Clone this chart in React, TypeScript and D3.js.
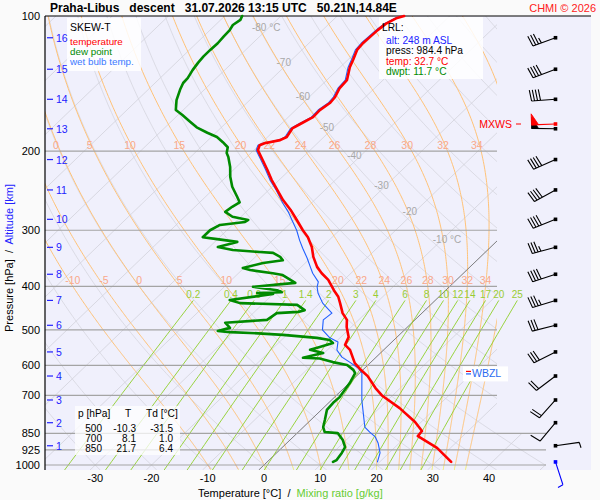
import React from "react";
import * as d3 from "d3";

// ---------------- data ----------------
const tempP = [984.4, 916, 862, 840, 802, 747, 700, 674, 634, 611, 593, 554, 540, 519, 493, 475, 459, 436, 422, 408, 387, 374, 362, 344, 327, 311, 300, 285, 270, 257, 244, 232, 220, 209, 199, 194, 192, 189, 186, 178, 174, 168, 162, 156, 151.5, 145, 139, 130, 125, 119, 115, 111, 107.5, 104, 101, 100];
const tempT = [32.7, 27.6, 22.0, 21.8, 18.9, 13.6, 8.1, 5.6, 2.0, -0.7, -2.7, -6.0, -7.8, -8.6, -10.8, -12.1, -14.1, -16.4, -17.9, -19.9, -22.8, -25.2, -27.2, -29.7, -31.8, -34.3, -36.5, -39.4, -42.5, -45.6, -48.5, -51.3, -54.0, -56.7, -59.3, -59.9, -59.4, -57.2, -56.6, -57.2, -56.6, -55.6, -55.7, -55.2, -55.4, -56.2, -56.4, -58.3, -59.1, -60.2, -60.4, -60.3, -60.2, -59.9, -59.0, -58.1];

const dewP = [984.4, 975, 940, 912, 880, 849, 844.5, 823, 794, 754, 727, 706, 657, 624, 614, 599, 590, 579, 577, 563, 554, 546, 535, 527, 521, 513, 508, 506, 503, 495, 482, 475, 459, 456, 452, 440, 436, 429, 416, 414, 412, 408, 401, 393, 377.5, 374, 368, 364, 355, 350, 344, 337, 335.5, 332, 327, 318.5, 314, 311, 300, 292, 287.6, 284.7, 280, 273, 266, 260, 253, 240, 228, 217, 206, 202, 196, 191, 186, 182, 177, 172, 166, 162, 154, 146, 141, 137.5, 132, 127, 123, 119, 115, 111, 107.5, 104.7, 102, 100];
const dewT = [11.7, 12.0, 11.6, 11.1, 9.4, 7.2, 4.7, 3.5, 2.5, 1.0, 0.8, 0.9, 0.1, -0.8, -1.7, -3.7, -6.8, -9.8, -12.9, -10.2, -13.1, -11.9, -10.3, -11.4, -14.1, -20.7, -26.9, -30.6, -33.0, -31.4, -33.2, -26.3, -25.8, -22.2, -21.4, -23.7, -34.2, -36.6, -30.0, -33.0, -28.8, -30.0, -34.9, -28.1, -31.8, -33.9, -38.5, -40.2, -37.5, -34.5, -35.6, -37.6, -40.1, -45.3, -48.5, -46.0, -50.1, -53.0, -53.0, -52.2, -48.3, -48.1, -51.5, -53.7, -53.4, -52.9, -54.3, -57.1, -59.3, -61.1, -63.3, -64.3, -65.2, -67.0, -69.0, -71.5, -74.4, -76.6, -79.3, -81.3, -83.0, -84.3, -85.0, -85.1, -85.7, -86.1, -86.3, -86.3, -86.2, -86.4, -86.5, -86.9, -86.5, -86.9];

const wbP = [984.4, 940, 893, 866, 844.5, 823, 717, 647, 624, 608, 590, 575, 554.5, 532, 521, 500, 475, 459, 436, 414, 401, 391, 374, 362, 346, 329, 316, 300, 287.6, 273, 261, 244, 232, 220, 209, 199, 194, 192, 189, 186, 178, 174, 168, 162, 156, 151.5, 145, 139, 130, 125, 119, 115, 111, 107.5, 104, 101, 100];
const wbT = [19.6, 18.4, 16.2, 14.6, 12.7, 10.9, 5.4, 1.7, 0.4, -1.2, -3.8, -6.1, -8.3, -9.6, -11.8, -14.6, -16.3, -16.0, -19.5, -22.2, -23.5, -24.2, -26.8, -28.4, -30.6, -33.2, -35.2, -37.6, -39.8, -42.5, -45.1, -48.7, -51.6, -54.3, -57.0, -59.6, -60.2, -59.7, -57.5, -56.9, -57.5, -56.9, -55.9, -56.0, -55.5, -55.7, -56.5, -56.7, -58.6, -59.4, -60.5, -60.7, -60.6, -60.5, -60.2, -59.3, -58.4];

const pressureTicks = [100, 200, 300, 400, 500, 600, 700, 850, 925, 1000];
const altKm = [1, 2, 3, 4, 5, 6, 7, 8, 9, 10, 11, 12, 13, 14, 15, 16];
const altP = [906, 805, 716.5, 633.6, 560, 488.5, 430, 376, 327.5, 283.7, 244, 208.8, 178.3, 153.3, 131.4, 111.8];

const tempTicks = [-30, -20, -10, 0, 10, 20, 30, 40];

const windP = [984.4, 906, 805, 716.5, 633.6, 560, 488.5, 430, 376, 327.5, 283.7, 244, 208.8, 178.3, 153.3, 131.4, 111.8];
const windDir = [162, 82, 220, 222, 233, 243, 256, 253, 252, 255, 248, 241, 246, 271, 266, 249, 250];
const windSpd = [5, 3, 10, 20, 20, 30, 30, 35, 40, 35, 40, 40, 40, 50, 40, 40, 35];
const mxwsP = 174, mxwsDir = 268, mxwsSpd = 50;
const wbzlP = 622;

const isoLabelT = [-80, -70, -60, -50, -40, -30, -20, -10];
const isoLabelP = [106, 127, 151, 177, 205, 239, 273, 315];
const isoLabelText = ["-80 °C", "-70", "-60", "-50", "-40", "-30", "-20", "-10 °C"];
const isoLabelDx = [-3, -5, -7, -7, -6, -4, -5, 5];

const moistThetaW = [-10, -5, 0, 5, 10, 15, 20, 22, 24, 26, 28, 30, 32, 34, 36];
const moistLabelLevels = [200, 400];
const mixRatios = [0.2, 0.4, 0.6, 1, 1.4, 2, 3, 4, 6, 8, 10, 12, 14, 17, 20, 25];
const mixTopP = 430;

const tableRows = [
  ["500", "-10.3", "-31.5"],
  ["700", "8.1", "1.0"],
  ["850", "21.7", "6.4"],
];
const lcl = { alt: 248, press: 984.4, temp: 32.7, dwpt: 11.7 };

// ---------------- layout ----------------
const W = 600, H = 500;
const PL = 45, PR = 497, PR_LOW = 546, BG_R = 591;
const P_TOP = 100, P_BOT = 1026, P_WIDE = 850;
const BARB_X = 555.5;
const FONT = "'Liberation Sans', Arial, Helvetica, sans-serif";

const yS = d3.scaleLog().domain([1000, 100]).range([465, 16]);
const tS = d3.scaleLinear().domain([0, 40]).range([264, 489]);
const SKEW = 1.04;
const sx = (T: number, p: number) => tS(T) + SKEW * (yS(1000) - yS(p));

const prof = d3
  .line<[number, number]>()
  .x((d) => sx(d[1], d[0]))
  .y((d) => yS(d[0]));

const zip = (a: number[], b: number[]) => a.map((v, i) => [v, b[i]] as [number, number]);

const logLevels = (p0: number, p1: number, n: number) =>
  d3.range(n + 1).map((i) => p0 * Math.pow(p1 / p0, i / n));

function moistAdiabat(thw: number): [number, number][] {
  const Rd = 287.04, Cp = 1005.7, Lv = 2.501e6, eps = 0.622;
  const rate = (T: number, p: number) => {
    const Tc = T - 273.15;
    const es = 6.112 * Math.exp((17.67 * Tc) / (Tc + 243.5));
    const rs = (eps * es) / Math.max(p - es, 1);
    return (Rd * T + Lv * rs) / (Cp + (Lv * Lv * rs * eps) / (Rd * T * T)) / p;
  };
  const integ = (pEnd: number) => {
    const pts: [number, number][] = [];
    let T = thw + 273.15;
    let p = 1000;
    const n = 300;
    const dp = (pEnd - 1000) / n;
    pts.push([p, T - 273.15]);
    for (let i = 0; i < n; i++) {
      const k1 = rate(T, p);
      const k2 = rate(T + (k1 * dp) / 2, p + dp / 2);
      T += k2 * dp;
      p += dp;
      pts.push([p, T - 273.15]);
    }
    return pts;
  };
  const up = integ(P_TOP);
  const down = integ(P_BOT).reverse();
  return [...down, ...up.slice(1)];
}

const mixTd = (w: number, p: number) => {
  const e = (w * p) / (622 + w);
  const l = Math.log(e / 6.112);
  return (243.5 * l) / (17.67 - l);
};

function Barb({ p, dir, spd, color, dot = true }: { p: number; dir: number; spd: number; color: string; dot?: boolean }) {
  const x0 = BARB_X, y0 = yS(p);
  const r = (dir * Math.PI) / 180;
  const vx = Math.sin(r), vy = -Math.cos(r);
  const L = 24;
  const tx = x0 + vx * L, ty = y0 + vy * L;
  const nx = -vy, ny = vx;
  const FL = 11, SP = 3;
  let d = `M${x0},${y0}L${tx},${ty}`;
  const polys: string[] = [];
  let rem = Math.round(spd / 5) * 5;
  let pos = 0;
  while (rem >= 50) {
    const ax = tx - vx * pos, ay = ty - vy * pos;
    const bx = ax + nx * FL, by = ay + ny * FL;
    const cx = ax - vx * 7, cy = ay - vy * 7;
    polys.push(`${ax},${ay} ${bx},${by} ${cx},${cy}`);
    pos += 8;
    rem -= 50;
  }
  while (rem >= 10) {
    const ax = tx - vx * pos, ay = ty - vy * pos;
    d += `M${ax},${ay}L${ax + nx * FL + vx * 1.5},${ay + ny * FL + vy * 1.5}`;
    pos += SP;
    rem -= 10;
  }
  if (rem >= 5) {
    const ax = tx - vx * pos, ay = ty - vy * pos;
    d += `M${ax},${ay}L${ax + nx * FL * 0.5 + vx},${ay + ny * FL * 0.5 + vy}`;
  }
  return (
    <g>
      <path d={d} stroke={color} strokeWidth={1.1} fill="none" />
      {polys.map((pt, i) => (
        <polygon key={i} points={pt} fill={color} stroke={color} strokeWidth={0.8} />
      ))}
      {dot && <rect x={x0 - 1.8} y={y0 - 1.8} width={3.6} height={3.6} fill={color} />}
    </g>
  );
}

export default function App() {
  const yTop = yS(P_TOP), yBot = yS(P_BOT), yWide = yS(P_WIDE);
  const clipPts = `${PL},${yTop} ${PR},${yTop} ${PR},${yWide} ${PR_LOW},${yWide} ${PR_LOW},${yBot} ${PL},${yBot}`;

  const isotherms = d3.range(-170, 60, 10);
  const dryThetas = d3.range(-40, 230, 10);
  const lv = logLevels(P_BOT, P_TOP, 80);

  const moist = moistThetaW.map((t) => ({ t, pts: moistAdiabat(t) }));
  const moistLabels: { t: number; p: number; x: number }[] = [];
  moist.forEach(({ t, pts }) => {
    moistLabelLevels.forEach((lp) => {
      let best = pts[0];
      pts.forEach((q) => {
        if (Math.abs(q[0] - lp) < Math.abs(best[0] - lp)) best = q;
      });
      const x = sx(best[1], lp);
      if (x > PL + 4 && x < PR - 5) moistLabels.push({ t, p: lp, x });
    });
  });

  const mixLines = mixRatios.map((w) => ({
    w,
    pts: logLevels(P_BOT, mixTopP, 20).map((p) => [p, mixTd(w, p)] as [number, number]),
  }));

  const red = "#ff0000";
  const green = "#008a00";
  const blue = "#1f5fff";
  const altBlue = "#2222ff";
  const lclY = [30.5, 43.5, 54, 64.5, 75];

  return (
    <svg width={W} height={H} style={{ position: "absolute", left: 0, top: 0 }} fontFamily={FONT}>
      <defs>
        <clipPath id="gridclip">
          <polygon points={clipPts} />
        </clipPath>
        <clipPath id="plotclip">
          <rect x={PL} y={yTop - 2} width={BG_R - PL} height={yBot - yTop + 2} />
        </clipPath>
      </defs>
      <rect x={0} y={0} width={W} height={H} fill="#fafafa" />
      <rect x={PL} y={yTop} width={BG_R - PL} height={yBot - yTop} fill="#f0f0fc" />

      <g clipPath="url(#gridclip)" fill="none">
        {dryThetas.map((th) => (
          <path
            key={"d" + th}
            d={prof(lv.map((p) => [p, (th + 273.15) * Math.pow(p / 1000, 0.2857) - 273.15] as [number, number])) || ""}
            stroke="#d6d6de"
            strokeWidth={0.8}
          />
        ))}
        {isotherms.map((t) => (
          <path
            key={"i" + t}
            d={prof([[P_BOT, t], [P_TOP, t]]) || ""}
            stroke="#d2d2da"
            strokeWidth={0.8}
          />
        ))}
        {moist.map(({ t, pts }) => (
          <path key={"m" + t} d={prof(pts) || ""} stroke="#ffc277" strokeWidth={1} />
        ))}
        <path d={prof([[P_BOT, 0], [P_TOP, 0]]) || ""} stroke="#6a6a6a" strokeWidth={0.8} />
      </g>

      <g clipPath="url(#plotclip)" fill="none">
        {mixLines.map(({ w, pts }) => (
          <path key={"w" + w} d={prof(pts) || ""} stroke="#8fcf2a" strokeWidth={0.9} />
        ))}
      </g>

      {pressureTicks
        .filter((p) => p !== 100)
        .map((p) => (
          <line
            key={"pl" + p}
            x1={PL}
            x2={p >= P_WIDE ? PR_LOW : PR}
            y1={yS(p)}
            y2={yS(p)}
            stroke="#a4a4a4"
            strokeWidth={1.2}
          />
        ))}

      {/* frame */}
      <line x1={PL} x2={BG_R} y1={yTop} y2={yTop} stroke="#000" strokeWidth={1.2} />
      <line x1={PL} x2={PL} y1={yTop} y2={yBot} stroke="#000" strokeWidth={1.2} />

      {/* isotherm labels */}
      {isoLabelT.map((t, i) => (
        <text
          key={"il" + t}
          x={sx(t, isoLabelP[i]) + isoLabelDx[i]}
          y={yS(isoLabelP[i]) + 3.5}
          fontSize={10}
          fill="#a8a8a8"
          textAnchor="middle"
        >
          {isoLabelText[i]}
        </text>
      ))}

      {/* moist adiabat labels */}
      {moistLabels.map((l) => (
        <text key={"ml" + l.t + "_" + l.p} x={l.x - (l.p === 200 ? 3 : 0)} y={yS(l.p) - 2} fontSize={10.5} fill="#f9a88a" textAnchor="middle">
          {l.t}
        </text>
      ))}

      {/* mixing ratio labels */}
      {mixLines.map(({ w, pts }) => (
        <text
          key={"wl" + w}
          x={sx(pts[pts.length - 1][1], mixTopP)}
          y={yS(mixTopP) - 2}
          fontSize={10}
          fill="#99cc33"
          textAnchor="middle"
        >
          {w}
        </text>
      ))}

      {/* boxes */}
      <rect x={67} y={18} width={74} height={53} fill="#ffffff" opacity={0.85} />
      <rect x={379} y={17} width={104} height={62} fill="#ffffff" opacity={0.85} />
      <rect x={75} y={406} width={105} height={49} fill="#ffffff" opacity={0.75} />

      {/* profiles */}
      <g clipPath="url(#plotclip)" fill="none" strokeLinejoin="round" strokeLinecap="round">
        <path d={prof(zip(dewP, dewT)) || ""} stroke={green} strokeWidth={2.6} />
        <path d={prof(zip(wbP, wbT)) || ""} stroke={blue} strokeWidth={1.1} />
        <path d={prof(zip(tempP, tempT)) || ""} stroke={red} strokeWidth={2.6} />
      </g>

      {/* left axis labels */}
      {pressureTicks.map((p) => (
        <text key={"pt" + p} x={40} y={yS(p) + 4} fontSize={11} textAnchor="end" fill="#000">
          {p}
        </text>
      ))}
      {altKm.map((k, i) => (
        <g key={"ak" + k}>
          <line x1={47} x2={53} y1={yS(altP[i])} y2={yS(altP[i])} stroke={altBlue} strokeWidth={1.2} />
          <text x={56} y={yS(altP[i]) + 4} fontSize={10.5} fill={altBlue}>
            {k}
          </text>
        </g>
      ))}
      <text transform="translate(13,258) rotate(-90)" fontSize={11} textAnchor="middle" xmlSpace="preserve">
        <tspan fill="#000">Pressure [hPa]</tspan>
        <tspan fill="#000">{"  /  "}</tspan>
        <tspan fill={altBlue}>Altitude [km]</tspan>
      </text>

      {/* bottom axis */}
      {tempTicks.map((t) => (
        <text key={"tt" + t} x={tS(t)} y={482} fontSize={11} textAnchor="middle" fill="#000">
          {t}
        </text>
      ))}
      <text x={198} y={497} fontSize={11} xmlSpace="preserve">
        <tspan fill="#000">{"Temperature [°C]  /  "}</tspan>
        <tspan fill="#66cc33">Mixing ratio [g/kg]</tspan>
      </text>

      {/* title */}
      <text x={50} y={12} fontSize={12} fontWeight="bold" fill="#000" xmlSpace="preserve">
        {"Praha-Libus   descent   31.07.2026 13:15 UTC   50.21N,14.84E"}
      </text>
      <text x={596} y={12} fontSize={11} fill="#ff2020" textAnchor="end">
        CHMI © 2026
      </text>

      {/* legend */}
      <text x={70} y={31} fontSize={10.5} fill="#000">SKEW-T</text>
      <text x={70} y={44.5} fontSize={9.8} fill={red}>temperature</text>
      <text x={70} y={54.5} fontSize={9.8} fill={green}>dew point</text>
      <text x={70} y={64.5} fontSize={9.8} fill="#3a78ff">wet bulb temp.</text>

      {/* LCL box */}
      <text x={382} y={lclY[0]} fontSize={10.2} fill="#000">LRL:</text>
      <text x={386} y={lclY[1]} fontSize={10.2} fill={altBlue}>{`alt: ${lcl.alt} m ASL`}</text>
      <text x={386} y={lclY[2]} fontSize={10.2} fill="#000">{`press: ${lcl.press.toFixed(1)} hPa`}</text>
      <text x={386} y={lclY[3]} fontSize={10.2} fill={red}>{`temp: ${lcl.temp.toFixed(1)} °C`}</text>
      <text x={386} y={lclY[4]} fontSize={10.2} fill={green}>{`dwpt: ${lcl.dwpt.toFixed(1)} °C`}</text>

      {/* table */}
      <text x={78} y={417} fontSize={10.2} fill="#000">p [hPa]</text>
      <text x={128} y={417} fontSize={10.2} fill="#000" textAnchor="middle">T</text>
      <text x={146} y={417} fontSize={10.2} fill="#000">Td [°C]</text>
      {tableRows.map((row, i) => (
        <g key={"tr" + i}>
          <text x={102} y={431.5 + i * 10.3} fontSize={10} textAnchor="end">{row[0]}</text>
          <text x={136} y={431.5 + i * 10.3} fontSize={10} textAnchor="end">{row[1]}</text>
          <text x={173} y={431.5 + i * 10.3} fontSize={10} textAnchor="end">{row[2]}</text>
        </g>
      ))}

      {/* wind barbs */}
      {windP.map((p, i) => (
        <Barb key={"b" + i} p={p} dir={windDir[i]} spd={windSpd[i]} color={i === 0 ? "#0000ff" : "#000"} />
      ))}
      <Barb p={mxwsP} dir={mxwsDir} spd={mxwsSpd} color={red} />
      <text x={512} y={yS(mxwsP) + 4} fontSize={10.5} fill={red} textAnchor="end">MXWS</text>
      <line x1={516} x2={521} y1={yS(mxwsP)} y2={yS(mxwsP)} stroke={red} strokeWidth={1} />

      {/* WBZL */}
      <rect x={463} y={yS(wbzlP) - 6} width={45} height={15} fill="#ffffff" />
      <line x1={466} x2={471} y1={yS(wbzlP) - 1} y2={yS(wbzlP) - 1} stroke={red} strokeWidth={1.2} />
      <line x1={466} x2={471} y1={yS(wbzlP) + 1.5} y2={yS(wbzlP) + 1.5} stroke={blue} strokeWidth={1.2} />
      <text x={472} y={yS(wbzlP) + 5} fontSize={10.5} fill="#2a6cf0">WBZL</text>
    </svg>
  );
}
